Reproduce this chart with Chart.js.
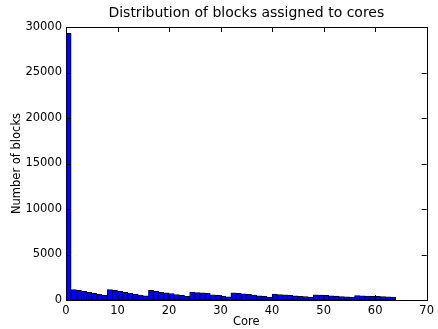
<!DOCTYPE html>
<html>
<head>
<meta charset="utf-8">
<script src="https://cdn.jsdelivr.net/npm/chart.js@4/dist/chart.umd.min.js"></script>
<style>
  html, body { margin: 0; padding: 0; background: #ffffff; }
  #c { display: block; }
</style>
</head>
<body>
<canvas id="c" width="438" height="329"></canvas>
<script>
// ---- data ----
const cores = [0,1,2,3,4,5,6,7,8,9,10,11,12,13,14,15,16,17,18,19,20,21,22,23,24,25,26,27,28,29,30,31,
               32,33,34,35,36,37,38,39,40,41,42,43,44,45,46,47,48,49,50,51,52,53,54,55,56,57,58,59,60,61,62,63];
const blocks = [29300, 1150, 1050, 950, 850, 750, 620, 500,
                1150, 1050, 950, 850, 750, 650, 550, 450,
                1050, 950, 850, 780, 700, 600, 500, 400,
                880, 820, 780, 720, 580, 500, 420, 350,
                780, 720, 680, 620, 550, 450, 400, 330,
                650, 600, 560, 520, 450, 400, 370, 330,
                560, 530, 500, 460, 420, 380, 350, 320,
                480, 460, 440, 420, 400, 380, 350, 330];
const xTicks = [0, 10, 20, 30, 40, 50, 60, 70];
const yTicks = [0, 5000, 10000, 15000, 20000, 25000, 30000];
const titleText = 'Distribution of blocks assigned to cores';
const xLabel = 'Core';
const yLabel = 'Number of blocks';

const FONT = "'DejaVu Sans', sans-serif";

const points = cores.map((c, i) => ({ x: c + 0.5, y: blocks[i] }));

const frameTicks = {
  id: 'frameTicks',
  afterDraw(chart) {
    const { ctx, chartArea: a, scales } = chart;
    const xs = scales.x, ys = scales.y;
    const L = 5;
    ctx.save();
    ctx.strokeStyle = '#000';
    ctx.lineWidth = 1;
    ctx.beginPath();
    xTicks.forEach(v => {
      const px = Math.round(xs.getPixelForValue(v)) + 0.5;
      ctx.moveTo(px, a.bottom); ctx.lineTo(px, a.bottom - L);
      ctx.moveTo(px, a.top); ctx.lineTo(px, a.top + L);
    });
    yTicks.forEach(v => {
      const py = Math.round(ys.getPixelForValue(v)) + 0.5;
      ctx.moveTo(a.left, py); ctx.lineTo(a.left + L, py);
      ctx.moveTo(a.right, py); ctx.lineTo(a.right - L, py);
    });
    ctx.stroke();
    ctx.strokeRect(Math.round(a.left) + 0.5, Math.round(a.top) + 0.5,
                   Math.round(a.right - a.left), Math.round(a.bottom - a.top));
    // title centred over the plot area
    ctx.fillStyle = '#000';
    ctx.font = "14px " + FONT;
    ctx.textAlign = 'center';
    ctx.textBaseline = 'middle';
    ctx.fillText(titleText, (a.left + a.right) / 2, 13);
    ctx.restore();
  }
};

new Chart(document.getElementById('c'), {
  type: 'bar',
  data: {
    datasets: [{
      data: points,
      backgroundColor: '#0000ff',
      borderColor: '#000000',
      borderWidth: 0.8,
      borderSkipped: false,
      barPercentage: 1.0,
      categoryPercentage: 1.0
    }]
  },
  options: {
    responsive: false,
    animation: false,
    devicePixelRatio: 1,
    layout: { padding: { left: 0, right: 8, top: 27, bottom: 0 } },
    plugins: {
      legend: { display: false },
      tooltip: { enabled: false },
      title: { display: false }
    },
    scales: {
      x: {
        type: 'linear',
        offset: false,
        min: 0, max: 70,
        afterBuildTicks(scale) { scale.ticks = xTicks.map(v => ({ value: v })); },
        afterFit(scale) { scale.height = 29; },
        grid: { display: false, drawTicks: false, offset: false },
        border: { display: false },
        ticks: {
          color: '#000', padding: 4,
          font: { family: FONT, size: 11.5 },
          callback: v => String(v),
          maxRotation: 0, autoSkip: false
        },
        title: {
          display: true, text: xLabel, color: '#000',
          font: { family: FONT, size: 11.5 },
          padding: { top: 0, bottom: 0 }
        }
      },
      y: {
        type: 'linear',
        min: 0, max: 30000,
        afterBuildTicks(scale) { scale.ticks = yTicks.map(v => ({ value: v })); },
        afterFit(scale) { scale.width = 66; },
        grid: { display: false, drawTicks: false },
        border: { display: false },
        ticks: {
          color: '#000', padding: 4,
          font: { family: FONT, size: 11.5 },
          callback: v => String(v),
          autoSkip: false
        },
        title: {
          display: true, text: yLabel, color: '#000',
          font: { family: FONT, size: 11.5 },
          padding: { top: 10, bottom: 0 }
        }
      }
    }
  },
  plugins: [frameTicks]
});
</script>
</body>
</html>
